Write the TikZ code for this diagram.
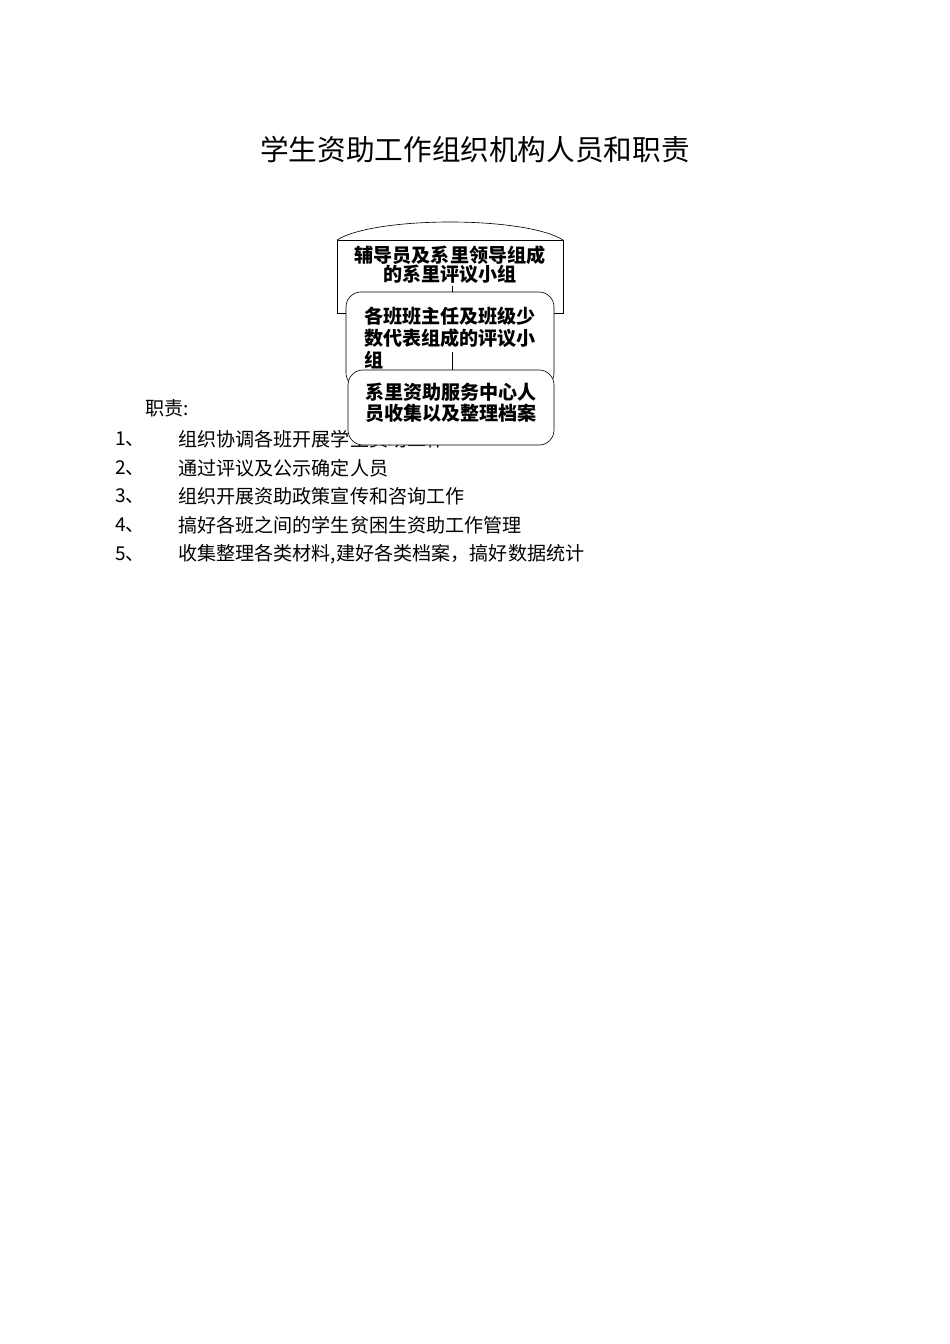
\documentclass[tikz,border=0pt]{standalone}
\usepackage{fontspec}
\setmainfont{Noto Sans CJK SC}
\usepackage{tikz}
\usetikzlibrary{positioning, calc, shapes.misc}
\def\px{0.221mm}
\tikzstyle{deptbox} = [rectangle, minimum width=226*\px, minimum height=73*\px, draw=black, fill=white]
\tikzstyle{classbox} = [rectangle, rounded corners=15*\px, minimum width=208*\px, minimum height=96*\px, draw=black, fill=white]
\tikzstyle{filebox} = [rectangle, rounded corners=15*\px, minimum width=206*\px, minimum height=75*\px, draw=black, fill=white]
\tikzstyle{boxtext} = [inner sep=0pt, font=\bfseries\fontsize{12pt}{12pt}\selectfont]
\tikzstyle{listtext} = [anchor=west, inner sep=0pt, font=\fontsize{12pt}{14pt}\selectfont]
\tikzstyle{link} = [thin, -]

\begin{document}
\begin{tikzpicture}[x=\px, y=-\px]
\useasboundingbox (0,0) rectangle (950,1344);

\node (title) at (475,150) {\fontsize{18pt}{18pt}\selectfont 学生资助工作组织机构人员和职责};

% duties
\node (duty) [listtext] at (145,408) {职责:};
\node (n1) [listtext] at (115,439) {1、};
\node (d1) [listtext] at (178,439) {组织协调各班开展学生资助工作};
\node (n2) [listtext] at (115,468) {2、};
\node (d2) [listtext] at (178,468) {通过评议及公示确定人员};
\node (n3) [listtext] at (115,496) {3、};
\node (d3) [listtext] at (178,496) {组织开展资助政策宣传和咨询工作};
\node (n4) [listtext] at (115,525) {4、};
\node (d4) [listtext] at (178,525) {搞好各班之间的学生贫困生资助工作管理};
\node (n5) [listtext] at (115,554) {5、};
\node (d5) [listtext] at (178,554) {收集整理各类材料,建好各类档案，搞好数据统计};

% boxes
\coordinate (topL) at (337,240);
\coordinate (topR) at (563,240);
\draw (topL) .. controls (375,216) and (525,216) .. (topR);

\node (dept) [deptbox] at (450,276.5) {};
\node (depttxt) [boxtext, align=center] at (450,264.5) {辅导员及系里领导组成\\的系里评议小组};

\node (cls) [classbox] at (450,340) {};
\node (clstxt) [boxtext, align=left, font=\bfseries\fontsize{12pt}{13.8pt}\selectfont] at (450,338) {各班班主任及班级少\\数代表组成的评议小\\组};
\draw [link] ($(depttxt.south)+(2,2)$) -- (cls.north -| 452,0);

\node (file) [filebox] at (451,407.5) {};
\node (filetxt) [boxtext, align=center, font=\bfseries\fontsize{12pt}{13.2pt}\selectfont] at (451,402.5) {系里资助服务中心人\\员收集以及整理档案};
\coordinate (cut) at (452,352);
\draw [link] (cut) -- (file.north -| cut);

\end{tikzpicture}
\end{document}
